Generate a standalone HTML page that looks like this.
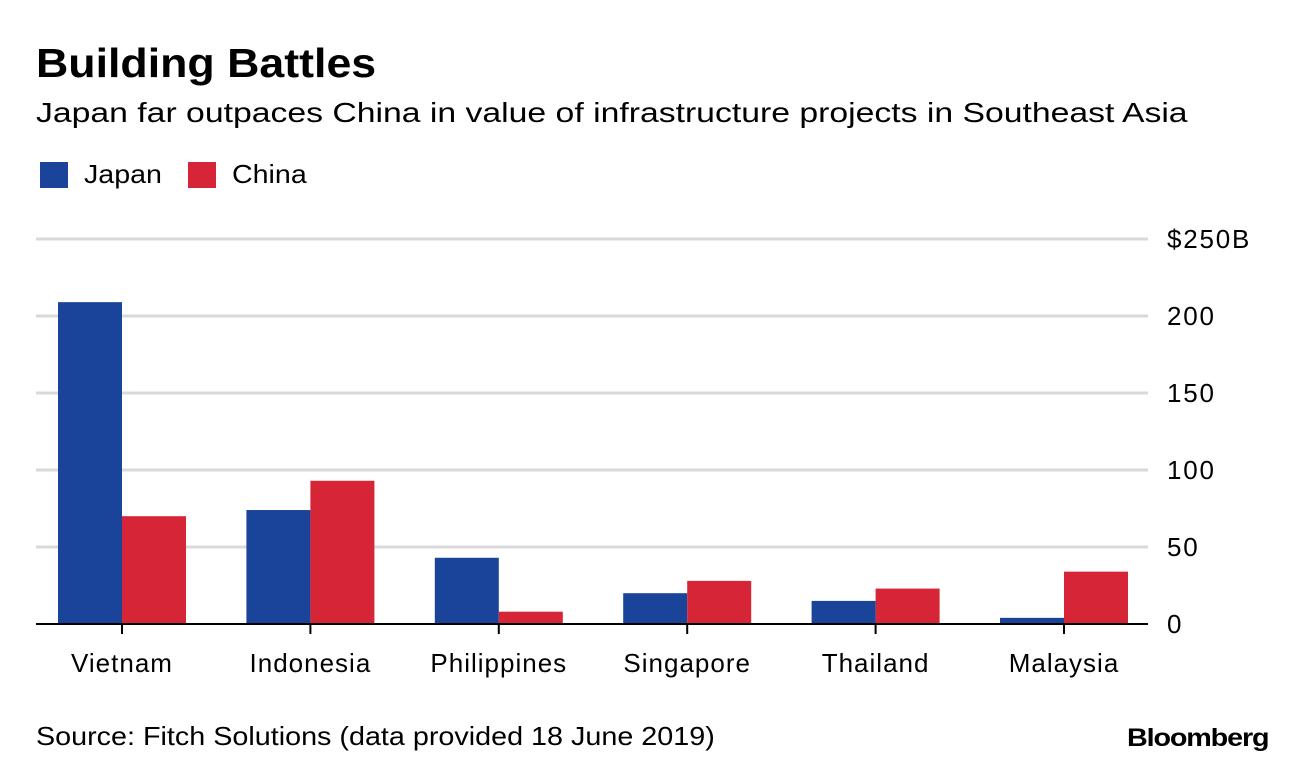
<!DOCTYPE html>
<html><head><meta charset="utf-8"><style>
body{margin:0;background:#fff;font-family:"Liberation Sans",Arial,sans-serif;}
#wrap{position:relative;width:1296px;height:768px;overflow:hidden;}
.t{position:absolute;white-space:nowrap;color:#000;transform-origin:0 0;}
</style></head><body>
<div id="wrap">
<div class="t" style="left:36px;top:40px;font-size:41px;font-weight:bold;transform:scaleX(1.09)">Building Battles</div>
<div class="t" style="left:36px;top:97px;font-size:28px;transform:scaleX(1.205)">Japan far outpaces China in value of infrastructure projects in Southeast Asia</div>
<div style="position:absolute;left:40px;top:162px;width:28px;height:26px;background:#1a449a"></div>
<div class="t" style="left:84px;top:159px;font-size:26px;transform:scaleX(1.1)">Japan</div>
<div style="position:absolute;left:188px;top:162px;width:28px;height:26px;background:#d62536"></div>
<div class="t" style="left:232px;top:159px;font-size:26px;transform:scaleX(1.1)">China</div>
<svg id="chart" width="1296" height="768" style="position:absolute;left:0;top:0"></svg>
<div class="t" style="left:36px;top:721px;font-size:26px;transform:scaleX(1.105)">Source: Fitch Solutions (data provided 18 June 2019)</div>
<div class="t" style="left:1127px;top:724px;font-size:25px;font-weight:bold;letter-spacing:-1px;transform:scaleX(1.15)">Bloomberg</div>
</div>
<script>
const categories=["Vietnam","Indonesia","Philippines","Singapore","Thailand","Malaysia"];
const japan=[209,74,43,20,15,4];
const china=[70,93,8,28,23,34];
const ticks=[0,50,100,150,200,250];
const tickLabels=["0","50","100","150","200","$250B"];
const svg=document.getElementById('chart');
const NS="http://www.w3.org/2000/svg";
const y=v=>624-v*1.54;
const cx=i=>122+i*188.4;
const bw=64;
function mk(tag,at){const e=document.createElementNS(NS,tag);for(const k in at)e.setAttribute(k,at[k]);svg.appendChild(e);return e;}
ticks.forEach((t,i)=>{
 if(t>0){const g=mk('line',{x1:36,x2:1148,y1:y(t),y2:y(t),stroke:'#d9d9d9','stroke-width':3});
 
 }
 const l=mk('text',{x:1167,y:y(t)+9,'font-size':26,'letter-spacing':1.8,'font-family':'Liberation Sans, sans-serif'});
 l.textContent=tickLabels[i];
 
 
});
categories.forEach((c,i)=>{
 const a=mk('rect',{x:cx(i)-bw,y:y(japan[i]),width:bw,height:624-y(japan[i]),fill:'#1a449a'});
 
 
 const b=mk('rect',{x:cx(i),y:y(china[i]),width:bw,height:624-y(china[i]),fill:'#d62536'});
 
 
 const tk=mk('line',{x1:cx(i),x2:cx(i),y1:624,y2:634,stroke:'#000','stroke-width':2});
 
 
 const l=mk('text',{x:cx(i),y:672,'font-size':26,'letter-spacing':1,'text-anchor':'middle','font-family':'Liberation Sans, sans-serif'});
 l.textContent=c;
 
 
});
const ax=mk('line',{x1:36,x2:1148,y1:624,y2:624,stroke:'#000','stroke-width':2});


</script>
</body></html>
